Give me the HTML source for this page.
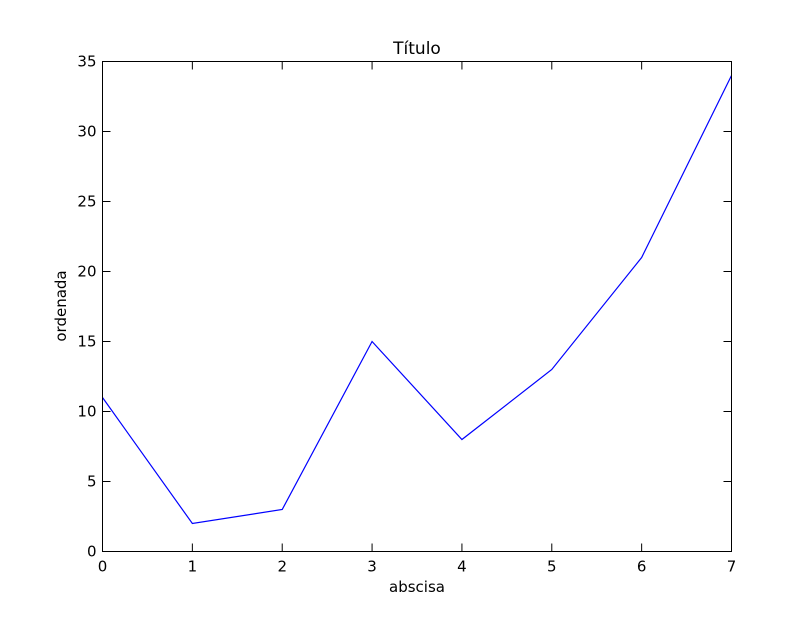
<!DOCTYPE html>
<html><head><meta charset="utf-8"><style>
body{margin:0;background:#fff;}
svg text{font-family:"DejaVu Sans","Liberation Sans",sans-serif;}
</style></head><body>
<svg id="chart" width="812" height="612" xmlns="http://www.w3.org/2000/svg">
<rect width="812" height="612" fill="#fff"/>
<g id="ticks"></g>
<path id="line" fill="none" stroke="#0000ff" stroke-width="1.2"/>
<rect x="102.5" y="61.5" width="629" height="490" fill="none" stroke="#000" stroke-width="1"/>
<text x="417" y="54" font-size="17" text-anchor="middle">Título</text>
<text x="417" y="592" font-size="15" text-anchor="middle">abscisa</text>
<text x="66" y="306" font-size="15" text-anchor="middle" transform="rotate(-90 66 306)">ordenada</text>
</svg>
<script>
const categories=[0,1,2,3,4,5,6,7];
const values=[11,2,3,15,8,13,21,34];
const xTicks=[0,1,2,3,4,5,6,7];
const yTicks=[0,5,10,15,20,25,30,35];
const L=102.5,R=731.5,T=61.5,B=551.5;
const xs=v=>L+(v-0)/(7-0)*(R-L);
const ys=v=>B-(v-0)/(35-0)*(B-T);
const ns="http://www.w3.org/2000/svg";
const g=document.getElementById('ticks');
function ln(x1,y1,x2,y2){const l=document.createElementNS(ns,'line');l.setAttribute('x1',x1);l.setAttribute('y1',y1);l.setAttribute('x2',x2);l.setAttribute('y2',y2);l.setAttribute('stroke','#000');


g.appendChild(l);}
function tx(x,y,s,a){const t=document.createElementNS(ns,'text');t.setAttribute('x',x);t.setAttribute('y',y);t.setAttribute('font-size','15');t.setAttribute('text-anchor',a);t.textContent=s;


g.appendChild(t);}
xTicks.forEach(v=>{const x=xs(v);ln(x,B,x,B-8);ln(x,T,x,T+8);tx(x,B+20,String(v),'middle');});
yTicks.forEach(v=>{const y=ys(v);ln(L,y,L+8,y);ln(R,y,R-8,y);tx(L-6,y+5,String(v),'end');});
document.getElementById('line').setAttribute('d',categories.map((c,i)=>(i?'L':'M')+xs(c)+' '+ys(values[i])).join(' '));
</script>
</body></html>
